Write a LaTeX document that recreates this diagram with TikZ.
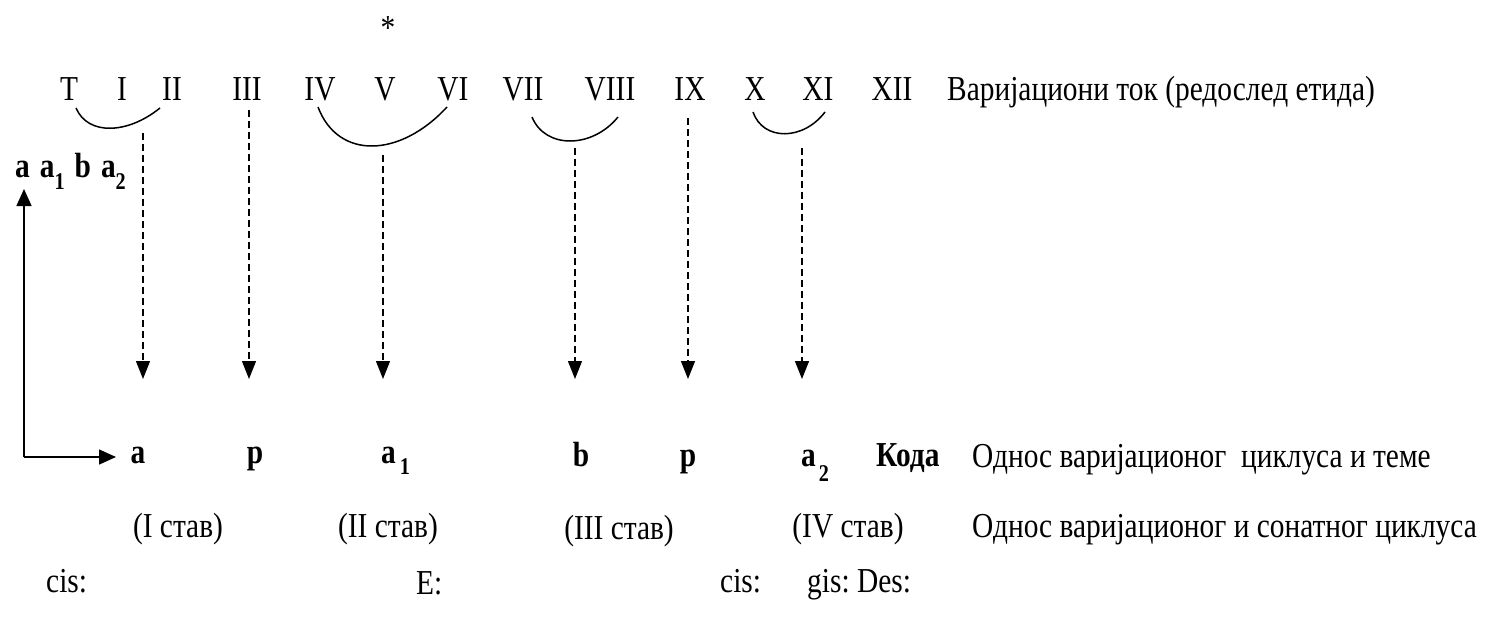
\documentclass[tikz,border=0pt]{standalone}
\usepackage{fontspec}
\setmainfont{Liberation Serif}[FakeStretch=0.84]
\usetikzlibrary{arrows.meta}
\newcommand\subx[2][10]{\raisebox{-#1pt}{\fontsize{24}{24}\selectfont #2}}
\begin{document}
\begin{tikzpicture}[x=1pt,y=-1pt,
  lbl/.style={inner sep=0pt, font=\fontsize{35}{38}\selectfont},
  blbl/.style={inner sep=0pt, font=\fontsize{35}{38}\selectfont\bfseries},
  dasharrow/.style={dash pattern=on 7pt off 4pt, line width=1.4pt, -{Triangle[length=18pt,width=14pt]}},
  solidarrow/.style={line width=1.5pt, -{Triangle[length=17pt,width=15pt]}},
  arcline/.style={line width=1.5pt}]
\useasboundingbox (0,0) rectangle (1499,626);

% top row
\node[lbl] (star) at (388,28) {*};
\node[lbl,anchor=base] (T)    at (69,100)  {T};
\node[lbl,anchor=base] (I)    at (122,100) {I};
\node[lbl,anchor=base] (II)   at (172,100) {II};
\node[lbl,anchor=base] (III)  at (247,100) {III};
\node[lbl,anchor=base] (IV)   at (320,100) {IV};
\node[lbl,anchor=base] (V)    at (385,100) {V};
\node[lbl,anchor=base] (VI)   at (453,100) {VI};
\node[lbl,anchor=base] (VII)  at (523,100) {VII};
\node[lbl,anchor=base] (VIII) at (610,100) {VIII};
\node[lbl,anchor=base] (IX)   at (690,100) {IX};
\node[lbl,anchor=base] (X)    at (755,100) {X};
\node[lbl,anchor=base] (XI)   at (818,100) {XI};
\node[lbl,anchor=base] (XII)  at (892,100) {XII};
\node[lbl,anchor=base west] (flow) at (947,100) {Варијациони ток (редослед етида)};

% arcs
\draw[arcline] (76,108) .. controls (88,136) and (128,134) .. (160,108);
\draw[arcline] (318,107) .. controls (338,160) and (400,158) .. (447,107);
\draw[arcline] (532,117) .. controls (545,149) and (592,149) .. (618,117);
\draw[arcline] (753,112) .. controls (763,141) and (803,141) .. (825,112);

% left label and axis
\node[blbl,anchor=base west] (scheme) at (15,177) {a\hspace{10pt}a\subx[12]{1}\hspace{10pt}b\hspace{10pt}a\subx[12]{2}};
\coordinate (corner) at (24,457);
\coordinate (uptip) at (24,189);
\coordinate (righttip) at (116,457);
\draw[solidarrow] (corner) -- (uptip);
\draw[solidarrow] (corner) -- (righttip);

% dashed arrows
\foreach \n/\x/\y in {1/143/133, 2/249/110, 3/383/155, 4/575/148, 5/688/118, 6/802/148}{
  \coordinate (s\n) at (\x,\y);
  \coordinate (e\n) at (\x,379);
  \draw[dasharrow] (s\n) -- (e\n);
}

% bottom labels
\node[blbl,anchor=base] (ba) at (138,463) {a};
\node[blbl,anchor=base] (bp1) at (255,463) {p};
\node[blbl,anchor=base west] (ba1) at (381,463) {a\hspace{4pt}\subx[11]{1}};
\node[blbl,anchor=base] (bb) at (581,466) {b};
\node[blbl,anchor=base] (bp2) at (688,466) {p};
\node[blbl,anchor=base west] (ba2) at (801,466) {a\hspace{3pt}\subx[15]{2}};
\node[blbl,anchor=base west] (coda) at (876,466) {Кода};
\node[lbl,anchor=base west] (rel1) at (972,467) {Однос варијационог\ \ циклуса и теме};

% movements
\node[lbl,anchor=base] (m1) at (178,537) {(I став)};
\node[lbl,anchor=base] (m2) at (388,537) {(II став)};
\node[lbl,anchor=base] (m3) at (619,539) {(III став)};
\node[lbl,anchor=base] (m4) at (848,537) {(IV став)};
\node[lbl,anchor=base west] (rel2) at (972,537) {Однос варијационог и сонатног циклуса};

% keys
\node[lbl,anchor=base west] (k1) at (46,592) {cis:};
\node[lbl,anchor=base west] (k2) at (416,594) {E:};
\node[lbl,anchor=base west] (k3) at (720,592) {cis:};
\node[lbl,anchor=base west] (k4) at (807,592) {gis:};
\node[lbl,anchor=base west] (k5) at (857,592) {Des:};
\end{tikzpicture}
\end{document}
